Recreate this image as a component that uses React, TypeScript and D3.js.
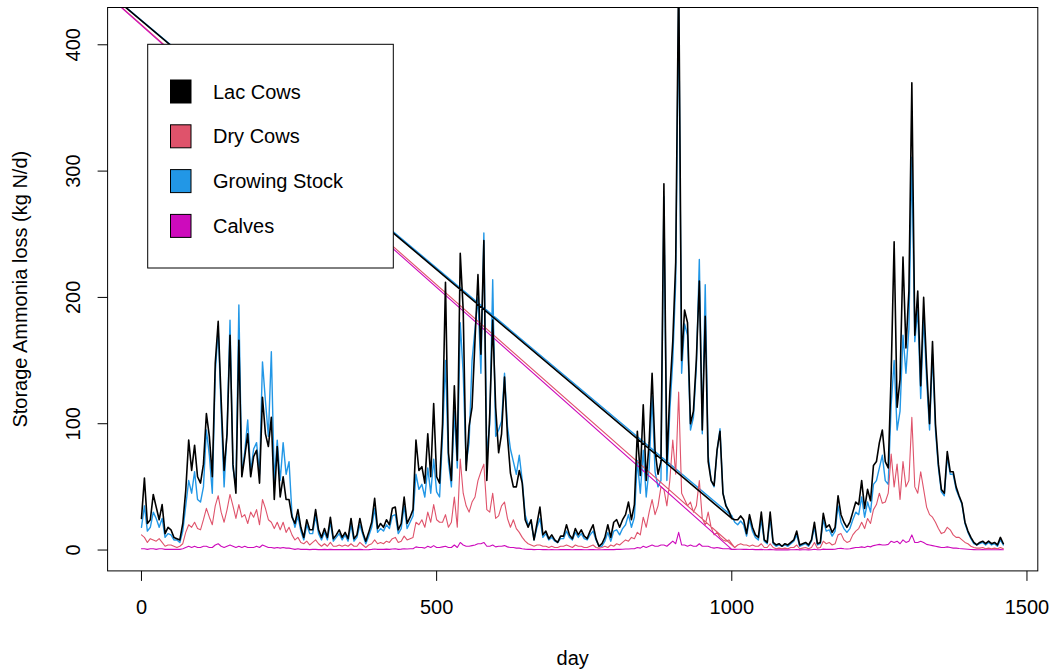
import React from "react";
import * as d3 from "d3";

// ---- data (values every 5 days, day 0 .. 1460) ----
const DAY_STEP = 5;
const X_DATA_RANGE = [1, 1460];
const Y_DATA_RANGE = [0, 413];
const X_TICKS = [0, 500, 1000, 1500];
const Y_TICKS = [0, 100, 200, 300, 400];
// the series line jumps back to this off-chart point after the given day
const WRAP_DAY = -180;
const WRAP_VALUE = 490;
const WRAP_AFTER_LAC = 1000;
const WRAP_AFTER_DRY = 1005;
const WRAP_AFTER_GROW = 1000;
const WRAP_AFTER_CALF = 1000;

const lacCows = [
  25, 57, 21, 24, 44, 34, 24, 36, 13, 18,
  16, 10, 9, 8, 21, 47, 87, 63, 83, 58,
  53, 68, 108, 90, 58, 148, 181, 119, 63, 92,
  170, 68, 45, 166, 58, 74, 92, 58, 74, 79,
  53, 121, 92, 82, 105, 40, 82, 42, 58, 40,
  40, 26, 21, 32, 18, 10, 24, 16, 16, 32,
  16, 10, 17, 10, 26, 9, 12, 16, 10, 14,
  9, 25, 9, 12, 25, 14, 7, 14, 22, 41,
  17, 21, 18, 24, 20, 33, 34, 16, 21, 42,
  21, 26, 32, 87, 63, 66, 53, 92, 58, 116,
  58, 53, 100, 212, 77, 55, 130, 71, 235, 190,
  63, 98, 113, 166, 218, 155, 245, 55, 108, 182,
  113, 77, 92, 137, 90, 61, 50, 50, 63, 53,
  24, 18, 24, 8, 21, 34, 12, 15, 9, 12,
  8, 6, 11, 11, 20, 12, 9, 17, 12, 16,
  11, 9, 15, 20, 9, 3, 5, 10, 20, 10,
  22, 24, 18, 24, 28, 38, 24, 36, 94, 59,
  115, 55, 85, 140, 79, 60, 70, 290, 68, 125,
  165, 228, 460, 150, 190, 180, 100, 110, 151, 213,
  95, 185, 70, 55, 51, 79, 94, 45, 35, 31,
  25, 24, 24, 27, 24, 13, 28, 18, 12, 10,
  30, 8, 6, 30, 6, 4, 5, 3, 5, 4,
  6, 8, 15, 4, 5, 6, 4, 8, 22, 5,
  6, 29, 18, 20, 14, 18, 43, 28, 22, 18,
  22, 30, 38, 36, 55, 33, 48, 39, 67, 70,
  85, 95, 70, 65, 140, 244, 113, 135, 232, 160,
  205, 370, 170, 205, 130, 200, 145, 100, 165, 100,
  68, 48, 45, 78, 62, 62, 50, 43, 37, 22,
  15, 10, 6, 4, 6, 7, 5, 7, 5, 6,
  4, 10, 5,
];

const dryCows = [
  12, 10, 6, 9, 8, 7, 9, 6, 3, 4,
  4, 3, 2, 3, 5, 14, 20, 18, 22, 17,
  16, 24, 33, 26, 20, 35, 43, 30, 22, 32,
  44, 35, 25, 36, 26, 28, 21, 30, 26, 32,
  20, 40, 33, 24, 22, 17, 22, 16, 22, 14,
  18, 12, 8, 10, 6, 5, 7, 4, 6, 8,
  5, 3, 5, 3, 6, 3, 3, 4, 3, 4,
  3, 5, 3, 3, 6, 4, 2, 4, 5, 8,
  5, 6, 5, 7, 6, 9, 10, 6, 7, 11,
  8, 9, 10, 22, 20, 24, 18, 30, 22, 36,
  24, 22, 22, 28, 18, 22, 42, 18, 72, 45,
  35, 30, 38, 42, 55, 62, 68, 32, 30, 45,
  25, 27, 35, 38, 25, 18, 24, 17, 14, 10,
  7, 5, 4, 3, 4, 4, 3, 3, 2, 3,
  2, 2, 3, 3, 4, 3, 2, 4, 3, 3,
  2, 2, 3, 4, 2, 1.5, 2, 3, 2, 4,
  3, 5, 4, 6, 8, 7, 10, 9, 14, 12,
  26, 18, 30, 40, 28, 35, 50, 48, 35, 55,
  87, 60, 125, 45, 40, 35, 38, 30, 35, 55,
  25, 20, 30, 18, 12, 14, 10, 8, 7, 8,
  5, 2, 4, 5, 4, 4, 3, 4, 3, 3,
  5, 2, 2, 5, 2, 1, 1.5, 1, 1.5, 1,
  2, 2, 4, 1, 1.5, 2, 1, 2, 6, 1.5,
  2, 7, 5, 6, 4, 5, 12, 13, 8, 6,
  7, 12, 15, 17, 22, 17, 25, 21, 32, 36,
  45, 37, 38, 45, 76, 50, 68, 40, 70, 50,
  55, 105, 50, 45, 62, 48, 34, 28, 26, 22,
  17, 13, 14, 18, 16, 12, 10, 10, 8, 6,
  5, 3, 2, 1.5, 1.5, 2, 1, 1.5, 1, 1.5,
  1, 2, 1,
];

const growingStock = [
  18, 35, 15, 18, 30, 25, 18, 25, 10, 13,
  12, 8, 8, 6, 15, 35, 55, 45, 62, 40,
  38, 50, 95, 75, 45, 140, 175, 110, 50, 95,
  182, 65, 50, 194, 60, 78, 103, 62, 80, 85,
  60, 149, 118, 90, 157, 55, 87, 55, 85, 60,
  70, 28, 18, 27, 15, 8, 20, 13, 13, 27,
  13, 8, 14, 8, 22, 7, 10, 13, 8, 12,
  7, 20, 7, 10, 20, 12, 5, 11, 18, 33,
  14, 17, 15, 20, 17, 27, 28, 13, 17, 35,
  17, 22, 27, 60, 48, 52, 42, 65, 45, 72,
  46, 42, 90, 150, 70, 50, 110, 65, 180, 140,
  68, 85, 150, 175, 200, 140, 251, 75, 100, 214,
  90, 95, 102, 140, 98, 80, 70, 60, 75, 55,
  28, 20, 22, 8, 18, 25, 10, 13, 8, 10,
  7, 6, 9, 9, 15, 10, 8, 14, 10, 13,
  9, 8, 12, 15, 8, 3, 3, 7, 14, 7,
  15, 16, 12, 17, 20, 28, 18, 26, 71, 45,
  79, 42, 65, 122, 62, 50, 55, 280, 55, 110,
  150, 213, 440, 140, 179, 170, 95, 105, 145, 230,
  92, 210, 75, 55, 50, 78, 96, 45, 36, 30,
  27, 22, 20, 23, 20, 11, 24, 15, 10, 8,
  24, 7, 5, 25, 5, 3, 4, 3, 4, 3,
  5, 7, 12, 3, 4, 5, 3, 7, 18, 4,
  5, 24, 15, 16, 11, 15, 35, 22, 17, 14,
  17, 24, 30, 28, 42, 26, 38, 30, 52, 55,
  65, 75, 55, 52, 115, 150, 95, 110, 170, 140,
  175, 311, 165, 190, 120, 185, 135, 95, 155, 95,
  65, 46, 43, 74, 60, 60, 48, 42, 36, 21,
  14, 9, 5, 4, 5, 6, 4, 6, 4, 5,
  3, 8, 4,
];

const calves = [
  1, 1, 0.5, 1, 1, 0.5, 1, 1, 0.5, 0.5,
  0.5, 0.5, 0.5, 0.5, 1, 2, 3, 2, 3, 2,
  2, 3, 3, 2, 2, 4, 5, 3, 2, 3,
  4, 3, 2, 3, 2, 3, 2, 2, 2, 3,
  2, 4, 3, 2, 2, 1.5, 2, 1.5, 2, 1.5,
  1.5, 1, 0.5, 1, 0.5, 0.5, 0.5, 0.3, 0.5, 0.5,
  0.3, 0.3, 0.5, 0.3, 0.5, 0.3, 0.3, 0.3, 0.3, 0.3,
  0.3, 0.5, 0.3, 0.3, 0.5, 0.3, 0.2, 0.3, 0.5, 0.8,
  0.5, 0.5, 0.5, 0.7, 0.5, 0.8, 1, 0.5, 0.7, 1,
  0.8, 1, 1, 2.5, 2, 2, 1.5, 3, 2, 3.5,
  2, 2, 2.5, 3, 2, 2, 4, 2, 6, 4,
  3, 3, 3.5, 4, 5, 5, 6, 3, 3, 4,
  2.5, 3, 3, 3.5, 2.5, 2, 2, 1.5, 1.5, 1,
  0.7, 0.5, 0.5, 0.3, 0.4, 0.4, 0.3, 0.3, 0.2, 0.3,
  0.2, 0.2, 0.3, 0.3, 0.4, 0.3, 0.2, 0.4, 0.3, 0.3,
  0.2, 0.2, 0.3, 0.4, 0.2, 0.2, 0.2, 0.3, 0.3, 0.4,
  0.3, 0.5, 0.5, 0.6, 0.8, 0.8, 1, 1, 2, 1.5,
  3, 2, 3, 4, 3, 3, 4, 4, 3, 5,
  7, 5, 14, 4, 4, 3, 4, 3, 3, 5,
  3, 3, 3, 2, 1.5, 2, 1.5, 1, 1, 1,
  0.5, 0.5, 0.6, 0.6, 0.5, 0.5, 0.4, 0.5, 0.3, 0.3,
  0.5, 0.2, 0.2, 0.5, 0.2, 0.1, 0.2, 0.1, 0.2, 0.1,
  0.2, 0.2, 0.4, 0.1, 0.2, 0.2, 0.1, 0.2, 0.6, 0.2,
  0.2, 0.7, 0.5, 0.6, 0.5, 0.6, 1.2, 1.3, 1, 0.8,
  1, 1.5, 2, 2, 2.5, 2, 3, 2.5, 3.5, 4,
  4.5, 4, 4, 4.5, 7, 6, 7, 5, 8, 6,
  7, 12, 6, 6, 7, 6, 4.5, 4, 3.5, 3,
  2.5, 2, 2, 2.5, 2, 1.5, 1.5, 1.2, 1, 0.8,
  0.6, 0.4, 0.3, 0.2, 0.2, 0.3, 0.2, 0.2, 0.2, 0.2,
  0.2, 0.3, 0.2,
];

const LEGEND_LABELS = ["Lac Cows", "Dry Cows", "Growing Stock", "Calves"];
const LEGEND_COLORS = ["#000000", "#DF536B", "#2297E6", "#CD0BBC"];

// ---- layout ----
const W = 1055;
const H = 672;
const PLOT = { left: 107.6, right: 1037.8, top: 7.5, bottom: 570.9 };
const FONT = "'Liberation Sans', Arial, Helvetica, sans-serif";
const FS = 20;

function extend(r: number[]) {
  const d = (r[1] - r[0]) * 0.04;
  return [r[0] - d, r[1] + d];
}

export default function App() {
  const x = d3.scaleLinear().domain(extend(X_DATA_RANGE)).range([PLOT.left, PLOT.right]);
  const y = d3.scaleLinear().domain(extend(Y_DATA_RANGE)).range([PLOT.bottom, PLOT.top]);
  const line = d3
    .line<[number, number]>()
    .x((d) => x(d[0]))
    .y((d) => y(d[1]));

  const makePaths = (vals: number[], wrapAfter: number) => {
    const pts: [number, number][] = vals.map((v, i) => [i * DAY_STEP, v]);
    const cut = pts.findIndex((p) => p[0] === wrapAfter);
    const a = [...pts.slice(0, cut + 1), [WRAP_DAY, WRAP_VALUE] as [number, number]];
    const b = pts.slice(cut);
    return [line(a) || "", line(b) || ""];
  };

  const series = [
    { vals: growingStock, wrap: WRAP_AFTER_GROW, color: LEGEND_COLORS[2], w: 1.4 },
    { vals: dryCows, wrap: WRAP_AFTER_DRY, color: LEGEND_COLORS[1], w: 1.1 },
    { vals: calves, wrap: WRAP_AFTER_CALF, color: LEGEND_COLORS[3], w: 1.1 },
    { vals: lacCows, wrap: WRAP_AFTER_LAC, color: LEGEND_COLORS[0], w: 1.6 },
  ];

  const legendTop = 44.3;
  const legendLeft = 147.7;
  const legendW = 245.6;
  const legendH = 223.7;
  const rowY0 = 91.5;
  const rowGap = 44.8;

  return (
    <svg
      width={W}
      height={H}
      style={{ position: "absolute", left: 0, top: 0, display: "block", background: "#fff" }}
      fontFamily={FONT}
    >
      <defs>
        <clipPath id="plotClip">
          <rect x={PLOT.left} y={PLOT.top} width={PLOT.right - PLOT.left} height={PLOT.bottom - PLOT.top} />
        </clipPath>
      </defs>
      <rect x={0} y={0} width={W} height={H} fill="#fff" />

      <g clipPath="url(#plotClip)" fill="none" strokeLinejoin="round" strokeLinecap="round">
        {series.map((s, i) =>
          makePaths(s.vals, s.wrap).map((d, j) => (
            <path key={`${i}-${j}`} d={d} stroke={s.color} strokeWidth={s.w} />
          ))
        )}
      </g>

      {/* legend */}
      <rect x={legendLeft} y={legendTop} width={legendW} height={legendH} fill="#fff" stroke="#000" strokeWidth={1} />
      {LEGEND_LABELS.map((lab, i) => {
        const cy = rowY0 + i * rowGap;
        return (
          <g key={lab}>
            <rect x={170.5} y={cy - 11.5} width={20.5} height={23} fill={LEGEND_COLORS[i]} stroke="#000" strokeWidth={1} />
            <text x={213} y={cy + 7} fontSize={FS} fill="#000">
              {lab}
            </text>
          </g>
        );
      })}

      {/* box */}
      <rect
        x={PLOT.left}
        y={PLOT.top}
        width={PLOT.right - PLOT.left}
        height={PLOT.bottom - PLOT.top}
        fill="none"
        stroke="#000"
        strokeWidth={1}
      />

      {/* x axis */}
      <g>
        {X_TICKS.map((t) => (
          <g key={t}>
            <line x1={x(t)} x2={x(t)} y1={PLOT.bottom} y2={PLOT.bottom + 10} stroke="#000" />
            <text x={x(t)} y={614} textAnchor="middle" fontSize={FS}>
              {t}
            </text>
          </g>
        ))}
        <text x={(PLOT.left + PLOT.right) / 2} y={665} textAnchor="middle" fontSize={FS}>
          day
        </text>
      </g>

      {/* y axis */}
      <g>
        {Y_TICKS.map((t) => (
          <g key={t}>
            <line x1={PLOT.left - 10} x2={PLOT.left} y1={y(t)} y2={y(t)} stroke="#000" />
            <text
              x={80}
              y={y(t)}
              textAnchor="middle"
              fontSize={FS}
              transform={`rotate(-90, 80, ${y(t)})`}
            >
              {t}
            </text>
          </g>
        ))}
        <text
          x={27}
          y={(PLOT.top + PLOT.bottom) / 2}
          textAnchor="middle"
          fontSize={FS}
          transform={`rotate(-90, 27, ${(PLOT.top + PLOT.bottom) / 2})`}
        >
          Storage Ammonia loss (kg N/d)
        </text>
      </g>
    </svg>
  );
}
